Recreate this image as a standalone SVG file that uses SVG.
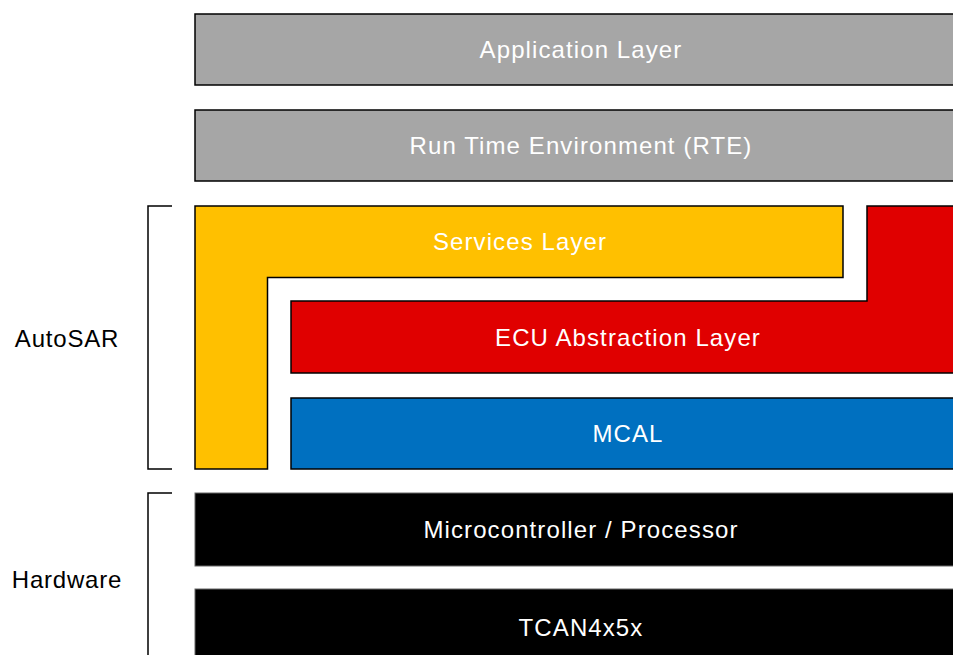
<svg xmlns="http://www.w3.org/2000/svg" width="953" height="655" viewBox="0 0 953 655">
<style>
.box{stroke:#000;stroke-width:1.5}
.hw{fill:#000;stroke:#666;stroke-width:1}
.lbl{font-family:"Liberation Sans",Arial,sans-serif;font-size:24px;fill:#fff;text-anchor:middle;letter-spacing:1.1px}
.side{font-family:"Liberation Sans",Arial,sans-serif;font-size:24px;fill:#000;text-anchor:middle;letter-spacing:0.8px}
.br{fill:none;stroke:#000;stroke-width:1.5}
</style>
<rect width="953" height="655" fill="#fff"/>
<g id="brackets">
<path class="br" d="M172,206 H148 V469 H172"/>
<path class="br" d="M172,493 H148 V660"/>
</g>
<g id="label-autosar"><text class="side" x="67" y="347">AutoSAR</text></g>
<g id="label-hardware"><text class="side" x="67" y="588">Hardware</text></g>
<g id="app">
<rect class="box" x="195" y="14" width="775" height="71" fill="#A6A6A6"/>
<text class="lbl" x="581" y="58">Application Layer</text>
</g>
<g id="rte">
<rect class="box" x="195" y="110" width="775" height="71" fill="#A6A6A6"/>
<text class="lbl" x="581" y="154">Run Time Environment (RTE)</text>
</g>
<g id="services">
<path class="box" d="M195,206 H843 V277.5 H267.5 V469 H195 Z" fill="#FFC000"/>
<text class="lbl" x="520" y="250">Services Layer</text>
</g>
<g id="ecu">
<path class="box" d="M867,206 H970 V373 H291 V301 H867 Z" fill="#E00000"/>
<text class="lbl" x="628" y="346">ECU Abstraction Layer</text>
</g>
<g id="mcal">
<rect class="box" x="291" y="398" width="679" height="71" fill="#0070C0"/>
<text class="lbl" x="628" y="442">MCAL</text>
</g>
<g id="micro">
<rect class="hw" x="195" y="493" width="775" height="73"/>
<text class="lbl" x="581" y="538">Microcontroller / Processor</text>
</g>
<g id="tcan">
<rect class="hw" x="195" y="589" width="775" height="80"/>
<text class="lbl" x="581" y="636">TCAN4x5x</text>
</g>
</svg>
